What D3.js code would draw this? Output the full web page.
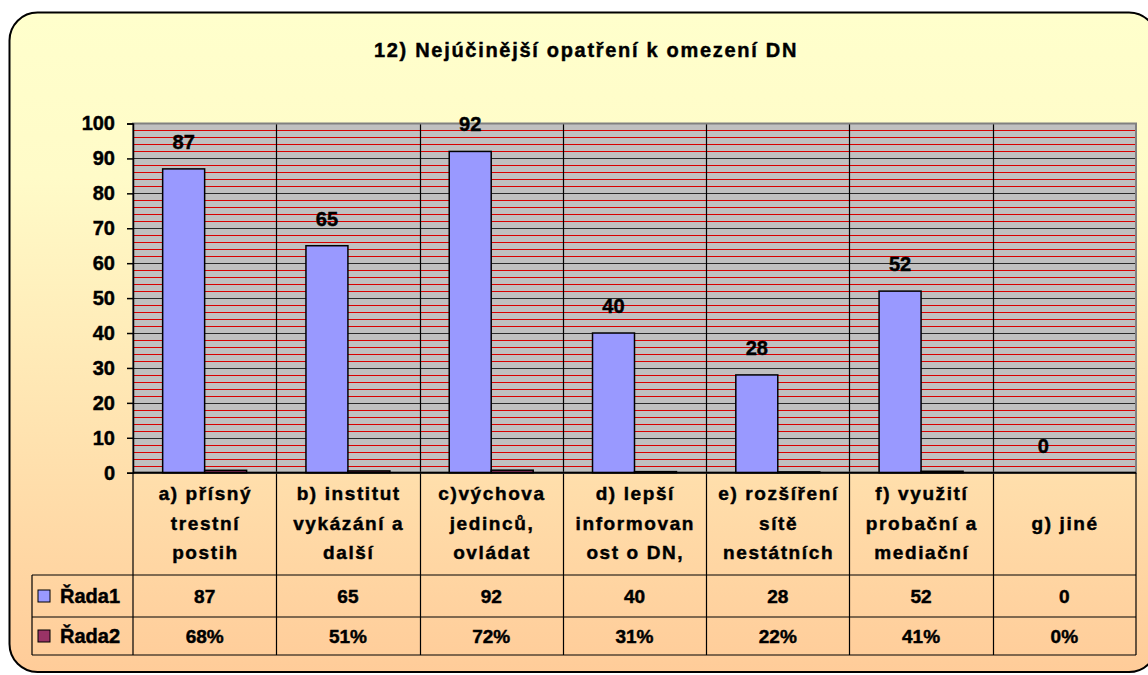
<!DOCTYPE html>
<html>
<head>
<meta charset="utf-8">
<script src="https://cdn.jsdelivr.net/npm/d3@7"></script>
<style>
  html, body { margin: 0; padding: 0; background: #ffffff; overflow: hidden; }
  svg { display: block; overflow: hidden; }
  text { font-family: "Liberation Sans", Arial, sans-serif; font-weight: bold; fill: #000; stroke: #000; stroke-width: 0.45px; }
</style>
</head>
<body>
<svg id="chart" width="1148" height="675" viewBox="0 0 1148 675"></svg>
<script>
// ---- data ----
const title = "12) Nejúčinější opatření k omezení DN";
const categories = ["a", "b", "c", "d", "e", "f", "g"];
const categoryLabels = [
  ["a) přísný", "trestní", "postih"],
  ["b) institut", "vykázání a", "další"],
  ["c)výchova", "jedinců,", "ovládat"],
  ["d) lepší", "informovan", "ost o DN,"],
  ["e) rozšíření", "sítě", "nestátních"],
  ["f) využití", "probační a", "mediační"],
  ["g) jiné"]
];
const seriesNames = ["Řada1", "Řada2"];
const series1 = [87, 65, 92, 40, 28, 52, 0];
const series2 = [0.68, 0.51, 0.72, 0.31, 0.22, 0.41, 0];
const seriesColors = ["#9999FF", "#993366"];
const yTicks = [0, 10, 20, 30, 40, 50, 60, 70, 80, 90, 100];

// ---- layout ----
const svg = d3.select("#chart");
const plotL = 133, plotR = 1136, plotT = 123.5, plotB = 472.7;
const headerB = 575, row1B = 617, row2B = 655, legendL = 32;

// background
const defs = svg.append("defs");
const grad = defs.append("linearGradient").attr("id", "bg").attr("x1", 0).attr("y1", 0).attr("x2", 0).attr("y2", 1);
grad.append("stop").attr("offset", "0%").attr("stop-color", "#FFFFCC");
grad.append("stop").attr("offset", "25%").attr("stop-color", "#FFFBC8");
grad.append("stop").attr("offset", "100%").attr("stop-color", "#FFCC99");

// frame
const fx0 = 9.5, fy0 = 12.5, fx1 = 1157, fy1 = 672, r = 28;
const framePath = `M${fx0 + r},${fy0} H${fx1 - r} A${r},${r} 0 0 1 ${fx1},${fy0 + r} V${fy1 - r} A${r},${r} 0 0 1 ${fx1 - r},${fy1} H${fx0 + r} A${r},${r} 0 0 1 ${fx0},${fy1 - r} V${fy0 + r} A${r},${r} 0 0 1 ${fx0 + r},${fy0} Z`;
svg.append("path").attr("d", framePath).attr("fill", "url(#bg)").attr("stroke", "#000").attr("stroke-width", 2);

// title
svg.append("text").attr("x", 586).attr("y", 57).attr("text-anchor", "middle")
  .style("font-size", "20px").style("letter-spacing", "1.7px").text(title);

// scales
const x = d3.scaleBand().domain(categories).range([plotL, plotR]).padding(0);
const bw = x.bandwidth();
const xs = d3.scaleBand().domain(seriesNames).range([bw * 0.207, bw * 0.793]).padding(0);
const y = d3.scaleLinear().domain([0, 100]).range([plotB, plotT]);

// plot area
svg.append("rect").attr("x", plotL).attr("y", plotT).attr("width", plotR - plotL).attr("height", plotB - plotT)
  .attr("fill", "#C0C0C0");

// minor gridlines
const minor = d3.range(2, 100, 2).filter(v => v % 10 !== 0);
svg.append("g").selectAll("line").data(minor).join("line")
  .attr("x1", plotL).attr("x2", plotR)
  .attr("y1", d => Math.round(y(d)) + 0.5).attr("y2", d => Math.round(y(d)) + 0.5)
  .attr("stroke", "#D80000").attr("stroke-width", 1);
// major gridlines
svg.append("g").selectAll("line").data(yTicks.filter(v => v > 0 && v < 100)).join("line")
  .attr("x1", plotL).attr("x2", plotR)
  .attr("y1", d => Math.round(y(d)) + 0.5).attr("y2", d => Math.round(y(d)) + 0.5)
  .attr("stroke", "#2a2a2a").attr("stroke-width", 1.2);
// category vertical lines
svg.append("g").selectAll("line").data(categories.slice(1)).join("line")
  .attr("x1", d => Math.round(x(d)) + 0.5).attr("x2", d => Math.round(x(d)) + 0.5)
  .attr("y1", plotT).attr("y2", row2B)
  .attr("stroke", "#000").attr("stroke-width", 1.2);
// plot border
svg.append("rect").attr("x", plotL).attr("y", plotT).attr("width", plotR - plotL).attr("height", plotB - plotT)
  .attr("fill", "none").attr("stroke", "#808080").attr("stroke-width", 2);

// bars
const groups = svg.append("g").selectAll("g").data(categories).join("g")
  .attr("transform", d => `translate(${x(d)},0)`);
groups.append("rect")
  .attr("x", xs("Řada1")).attr("width", xs.bandwidth())
  .attr("y", (d, i) => y(series1[i])).attr("height", (d, i) => y(0) - y(series1[i]))
  .attr("fill", seriesColors[0]).attr("stroke", "#000").attr("stroke-width", 1.5)
  .style("display", (d, i) => series1[i] > 0 ? null : "none");
groups.append("rect")
  .attr("x", xs("Řada2")).attr("width", xs.bandwidth())
  .attr("y", (d, i) => y(series2[i])).attr("height", (d, i) => y(0) - y(series2[i]))
  .attr("fill", seriesColors[1]).attr("stroke", "#000").attr("stroke-width", 1.5)
  .style("display", (d, i) => series2[i] > 0 ? null : "none");
groups.append("text")
  .attr("x", xs("Řada1") + xs.bandwidth() / 2)
  .attr("y", (d, i) => y(series1[i]) - 20)
  .attr("text-anchor", "middle").style("font-size", "20px")
  .text((d, i) => series1[i]);

// y axis
const yAxis = svg.append("g").attr("transform", `translate(${plotL},0)`)
  .call(d3.axisLeft(y).tickValues(yTicks).tickSize(6).tickPadding(12));
yAxis.select(".domain").attr("stroke", "#000").attr("stroke-width", 1.5);
yAxis.selectAll(".tick line").attr("stroke", "#000").attr("stroke-width", 1.5);
yAxis.selectAll(".tick text").style("font-size", "20px").style("font-family", "'Liberation Sans', Arial, sans-serif")
  .style("font-weight", "bold").attr("fill", "#000");
// x axis baseline
svg.append("line").attr("x1", plotL).attr("x2", plotR).attr("y1", plotB).attr("y2", plotB)
  .attr("stroke", "#000").attr("stroke-width", 2);

// data table
const tbl = svg.append("g");
const hline = (yy, x1, x2) => tbl.append("line").attr("x1", x1).attr("x2", x2).attr("y1", yy).attr("y2", yy)
  .attr("stroke", "#000").attr("stroke-width", 1.2);
const vline = (xx, y1, y2) => tbl.append("line").attr("x1", xx).attr("x2", xx).attr("y1", y1).attr("y2", y2)
  .attr("stroke", "#000").attr("stroke-width", 1.2);
hline(headerB, legendL, plotR);
hline(row1B, legendL, plotR);
hline(row2B, legendL, plotR);
vline(legendL, headerB, row2B);
vline(plotL, plotB, row2B);
vline(plotR, plotB, row2B);

// category labels
const headerMid = (plotB + headerB) / 2;
categories.forEach((c, i) => {
  const lines = categoryLabels[i];
  const t = tbl.append("text").attr("text-anchor", "middle").style("font-size", "19px").style("letter-spacing", "1.6px");
  lines.forEach((ln, j) => {
    t.append("tspan").attr("x", x(c) + bw / 2 + 0.8)
      .attr("y", headerMid + 6 + (j - (lines.length - 1) / 2) * 29.5).text(ln);
  });
});

// table rows
const rowData = [series1.map(v => String(v)), series2.map(v => d3.format(".0%")(v))];
const rowMids = [(headerB + row1B) / 2, (row1B + row2B) / 2];
rowData.forEach((vals, r) => {
  tbl.append("g").selectAll("text").data(categories).join("text")
    .attr("x", d => x(d) + bw / 2).attr("y", rowMids[r] + 7)
    .attr("text-anchor", "middle").style("font-size", "19px")
    .text((d, i) => vals[i]);
  tbl.append("rect").attr("x", 38).attr("y", rowMids[r] - 6).attr("width", 12).attr("height", 12)
    .attr("fill", seriesColors[r]).attr("stroke", "#000").attr("stroke-width", 1);
  tbl.append("text").attr("x", 60).attr("y", rowMids[r] + 7).style("font-size", "20px").text(seriesNames[r]);
});
</script>
</body>
</html>
